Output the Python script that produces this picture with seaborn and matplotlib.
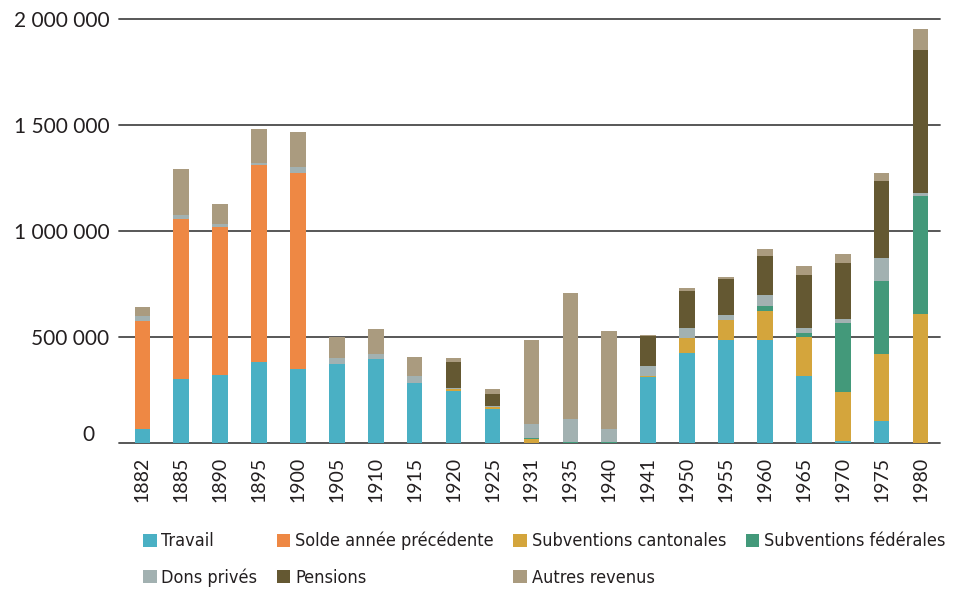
import matplotlib
matplotlib.use("Agg")
import matplotlib.pyplot as plt
import matplotlib.transforms as mtransforms
from matplotlib import font_manager
import seaborn as sns
import pandas as pd
import numpy as np

years = ["1882", "1885", "1890", "1895", "1900", "1905", "1910", "1915", "1920", "1925",
         "1931", "1935", "1940", "1941", "1950", "1955", "1960", "1965", "1970", "1975", "1980"]

travail      = [65000, 302000, 320000, 380000, 350000, 372000, 398000, 285000, 247000, 162000,
                0, 0, 0, 311000, 426000, 484000, 487000, 317000, 8000, 105000, 0]
solde        = [512000, 753000, 700000, 933000, 925000, 0, 0, 0, 0, 0,
                0, 0, 0, 0, 0, 0, 0, 0, 0, 0, 0]
cantonales   = [0, 0, 0, 0, 0, 0, 0, 0, 6000, 7000,
                19000, 0, 0, 6000, 68000, 94000, 137000, 183000, 234000, 314000, 607000]
federales    = [0, 0, 0, 0, 0, 0, 0, 0, 0, 0,
                6000, 5000, 5000, 0, 0, 0, 21000, 20000, 325000, 346000, 557000]
dons         = [22000, 20000, 14000, 9000, 25000, 30000, 20000, 31000, 5000, 5000,
                65000, 110000, 63000, 45000, 48000, 25000, 55000, 21000, 18000, 109000, 16000]
pensions     = [0, 0, 0, 0, 0, 0, 0, 0, 125000, 58000,
                0, 0, 0, 143000, 176000, 169000, 183000, 250000, 263000, 361000, 675000]
autres       = [42000, 217000, 93000, 158000, 167000, 98000, 118000, 91000, 18000, 23000,
                396000, 593000, 461000, 4000, 12000, 13000, 32000, 44000, 44000, 37000, 98000]

series_names = ["Travail", "Solde année précédente", "Subventions cantonales",
                "Subventions fédérales", "Dons privés", "Pensions", "Autres revenus"]
series_values = [travail, solde, cantonales, federales, dons, pensions, autres]
colors = ["#4AB0C4", "#EE8844", "#D4A53C", "#43997A", "#A2B1B1", "#645832", "#AA9B7F"]

y_ticks = [0, 500000, 1000000, 1500000, 2000000]
y_tick_labels = ["0", "500 000", "1 000 000", "1 500 000", "2 000 000"]

sns.set_theme(style="white")
plt.rcParams["font.family"] = ["Lato", "DejaVu Sans"]
text_color = "#231f20"

# pick a condensed font for the legend if one is installed
cond = None
for f in font_manager.fontManager.ttflist:
    if ("Condensed" in f.name or "Narrow" in f.name or f.stretch in ("condensed", "semi-condensed")) \
            and f.weight in (400, "normal", "regular") and f.style == "normal":
        cond = f
        break
if cond is not None:
    legend_prop = font_manager.FontProperties(fname=cond.fname, size=13)
else:
    legend_prop = font_manager.FontProperties(family=["Lato", "DejaVu Sans"], size=12)

fig = plt.figure(figsize=(9.54, 5.89), dpi=100)
ax = fig.add_axes([119 / 954, 1 - 443 / 589, (940 - 119) / 954, (443 - 19) / 589])

cum = np.zeros(len(years))
cums = []
for vals in series_values:
    cum = cum + np.array(vals, dtype=float)
    cums.append(cum.copy())

for i in range(len(series_names) - 1, -1, -1):
    d = pd.DataFrame({"year": years, "value": cums[i]})
    sns.barplot(data=d, x="year", y="value", order=years, color=colors[i],
                width=0.4, saturation=1, linewidth=0, label=series_names[i], ax=ax,
                errorbar=None)

ax.set_xlim(-0.6, len(years) - 0.5)
ax.set_ylim(0, 2000000)
ax.set_yticks(y_ticks)
ax.set_yticklabels(y_tick_labels)
ax.set_xlabel("")
ax.set_ylabel("")
for s in ax.spines.values():
    s.set_visible(False)
for yv in y_ticks:
    ax.axhline(yv, color="#4a4a4a", lw=1.3, zorder=0.5, clip_on=False)

ax.tick_params(axis="y", length=0, pad=7, labelsize=15, labelcolor=text_color)
ax.tick_params(axis="x", length=0, pad=10, labelsize=14, labelcolor=text_color)
for lbl in ax.get_xticklabels():
    lbl.set_rotation(90)

lbl0 = ax.get_yticklabels()[0]
lbl0.set_transform(lbl0.get_transform() + mtransforms.ScaledTranslation(-15 / 100, 10 / 100, fig.dpi_scale_trans))

handles, labels = ax.get_legend_handles_labels()
hmap = dict(zip(labels, handles))
order = ["Travail", "Dons privés", "Solde année précédente", "Pensions",
         "Subventions cantonales", "Autres revenus", "Subventions fédérales"]
if ax.legend_:
    ax.legend_.remove()
fig.legend([hmap[k] for k in order], order, loc="upper left",
           bbox_to_anchor=(143 / 954, 1 - 532 / 589), ncol=4, frameon=False,
           borderpad=0, borderaxespad=0, handlelength=0.75, handleheight=0.75,
           handletextpad=0.25, columnspacing=1.1, labelspacing=1.0,
           prop=legend_prop, labelcolor=text_color)

fig.savefig("out.png", dpi=100)
